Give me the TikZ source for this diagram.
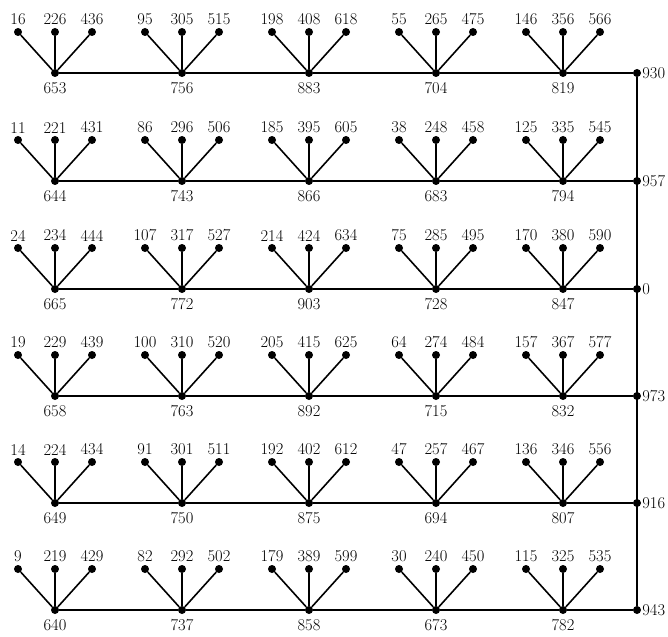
\documentclass[tikz,border=0pt]{standalone}
\usepackage{tikz}
\usetikzlibrary{positioning}

% one hub with its three leaves: name, x, y, hub label, leaf labels
\newcommand{\fan}[7]{%
  \node[dot, label={[lab, label distance=4pt]below:#4}] (#1) at (#2,#3) {};
  \node[dot, label={[lab]above:#5}] (#1a) at (#2-37,#3-41) {};
  \node[dot, label={[lab]above:#6}] (#1b) at (#2,#3-41) {};
  \node[dot, label={[lab]above:#7}] (#1c) at (#2+37,#3-41) {};
  \draw[leg] (#1) -- (#1a);
  \draw[leg] (#1) -- (#1b);
  \draw[leg] (#1) -- (#1c);
}

\begin{document}
\begin{tikzpicture}[x=1pt, y=-1pt]
  \tikzset{
    dot/.style={circle, fill, inner sep=0pt, minimum size=8pt},
    lab/.style={font=\fontsize{16.5}{16.5}\selectfont, inner sep=1pt, label distance=1.5pt},
    leg/.style={line width=1.6pt},
    spine/.style={line width=2.2pt}
  }
  \useasboundingbox (0,0) rectangle (668,636);

  % row 1
  \fan{r1c1}{55}{73}{653}{16}{226}{436}
  \fan{r1c2}{182}{73}{756}{95}{305}{515}
  \fan{r1c3}{309}{73}{883}{198}{408}{618}
  \fan{r1c4}{436}{73}{704}{55}{265}{475}
  \fan{r1c5}{563}{73}{819}{146}{356}{566}
  \node[dot, label={[lab, label distance=0pt]right:930}] (e1) at (637,73) {};
  % row 2
  \fan{r2c1}{55}{181}{644}{11}{221}{431}
  \fan{r2c2}{182}{181}{743}{86}{296}{506}
  \fan{r2c3}{309}{181}{866}{185}{395}{605}
  \fan{r2c4}{436}{181}{683}{38}{248}{458}
  \fan{r2c5}{563}{181}{794}{125}{335}{545}
  \node[dot, label={[lab, label distance=0pt]right:957}] (e2) at (637,181) {};
  % row 3
  \fan{r3c1}{55}{289}{665}{24}{234}{444}
  \fan{r3c2}{182}{289}{772}{107}{317}{527}
  \fan{r3c3}{309}{289}{903}{214}{424}{634}
  \fan{r3c4}{436}{289}{728}{75}{285}{495}
  \fan{r3c5}{563}{289}{847}{170}{380}{590}
  \node[dot, label={[lab, label distance=0pt]right:0}] (e3) at (637,289) {};
  % row 4
  \fan{r4c1}{55}{396}{658}{19}{229}{439}
  \fan{r4c2}{182}{396}{763}{100}{310}{520}
  \fan{r4c3}{309}{396}{892}{205}{415}{625}
  \fan{r4c4}{436}{396}{715}{64}{274}{484}
  \fan{r4c5}{563}{396}{832}{157}{367}{577}
  \node[dot, label={[lab, label distance=0pt]right:973}] (e4) at (637,396) {};
  % row 5
  \fan{r5c1}{55}{503}{649}{14}{224}{434}
  \fan{r5c2}{182}{503}{750}{91}{301}{511}
  \fan{r5c3}{309}{503}{875}{192}{402}{612}
  \fan{r5c4}{436}{503}{694}{47}{257}{467}
  \fan{r5c5}{563}{503}{807}{136}{346}{556}
  \node[dot, label={[lab, label distance=0pt]right:916}] (e5) at (637,503) {};
  % row 6
  \fan{r6c1}{55}{610}{640}{9}{219}{429}
  \fan{r6c2}{182}{610}{737}{82}{292}{502}
  \fan{r6c3}{309}{610}{858}{179}{389}{599}
  \fan{r6c4}{436}{610}{673}{30}{240}{450}
  \fan{r6c5}{563}{610}{782}{115}{325}{535}
  \node[dot, label={[lab, label distance=0pt]right:943}] (e6) at (637,610) {};

  \foreach \r in {1,...,6}
    \draw[spine] (r\r c1) -- (r\r c2) -- (r\r c3) -- (r\r c4) -- (r\r c5) -- (e\r);
  \draw[spine] (e1) -- (e6);
\end{tikzpicture}
\end{document}
